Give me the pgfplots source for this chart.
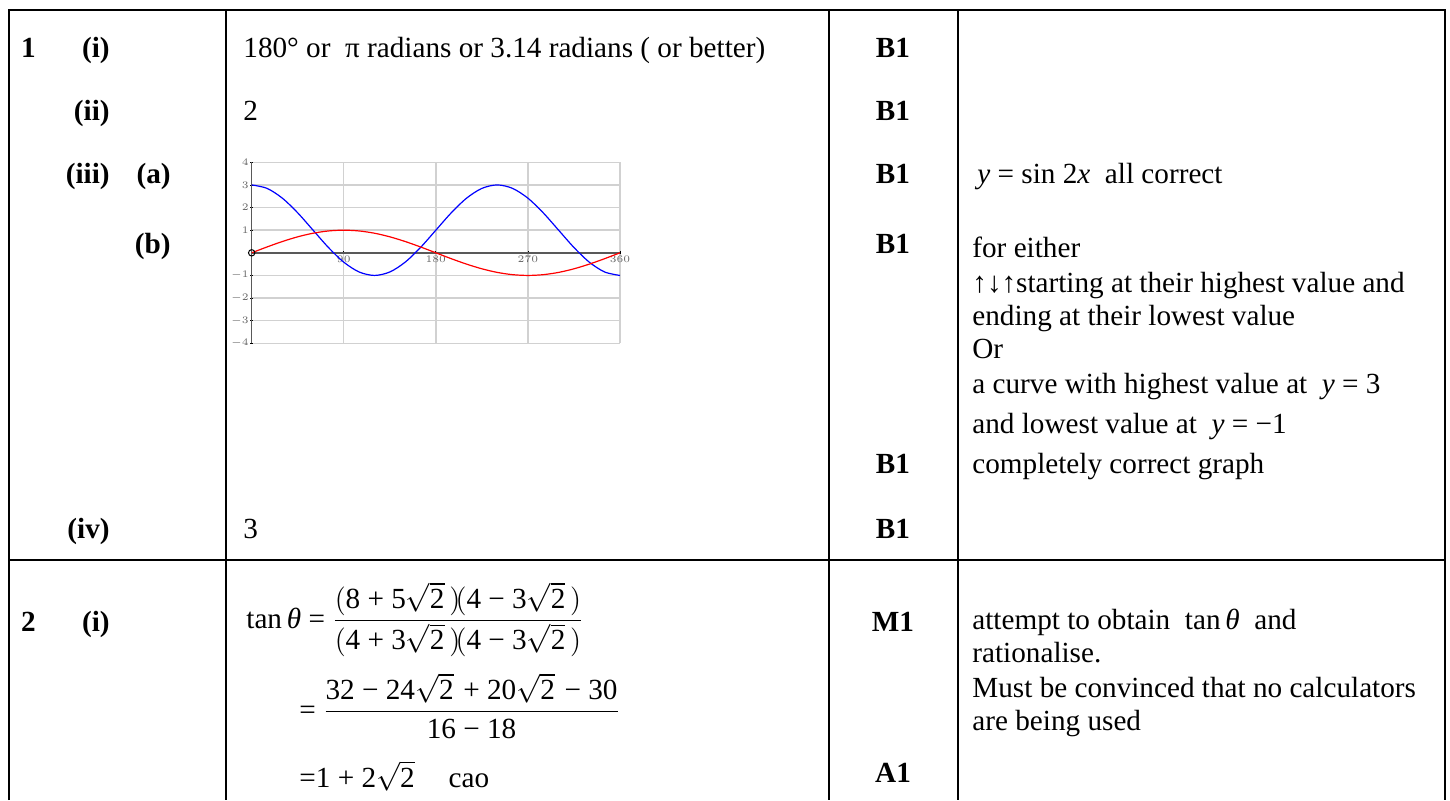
\documentclass[border=0pt]{standalone}
\usepackage{fontspec}
\setmainfont{Liberation Serif}
\usepackage{pgfplots}
\pgfplotsset{compat=1.18}

% red: y = sin x, blue: the second curve, every 15 degrees
\pgfplotstableread{
x    red     blue
0    0       3
15   0.259   2.848
30   0.5     2.414
45   0.707   1.765
60   0.866   1
75   0.966   0.235
90   1      -0.414
105  0.966  -0.848
120  0.866  -1
135  0.707  -0.848
150  0.5    -0.414
165  0.259   0.235
180  0       1
195 -0.259   1.765
210 -0.5     2.414
225 -0.707   2.848
240 -0.866   3
255 -0.966   2.848
270 -1       2.414
285 -0.966   1.765
300 -0.866   1
315 -0.707   0.235
330 -0.5    -0.414
345 -0.259  -0.848
360  0      -1
}\curves

% numbers inside formulas in the text face (Times-like, as in the scan)
\newcommand{\tn}[1]{\mbox{#1}}
\newcommand{\rt}{\sqrt{\tn{2}}\,}

\begin{document}
\begin{tikzpicture}[x=0.5pt, y=-0.5pt,
  txt/.style={anchor=base west, inner sep=0pt, font=\fontsize{14.6}{17.5}\selectfont},
  mk/.style={anchor=base, inner sep=0pt, font=\fontsize{14.6}{17.5}\selectfont\bfseries},
  num/.style={anchor=base east, inner sep=0pt, font=\fontsize{14.6}{17.5}\selectfont\bfseries}]
\path[use as bounding box] (0,0) rectangle (1450,800);

% table rules
\draw[line width=1pt] (9,800) -- (9,10) -- (1445,10) -- (1445,800);
\draw[line width=1pt] (9,560) -- (1445,560);
\foreach \cx in {226,829,958} \draw[line width=1pt] (\cx,10) -- (\cx,800);

% question numbers
\node[num] at (36,57) {1};
\node[num] at (110,57) {(i)};
\node[num] at (110,120) {(ii)};
\node[num] at (110,183) {(iii)};
\node[num] at (171,183) {(a)};
\node[num] at (171,253) {(b)};
\node[num] at (110,538) {(iv)};
\node[num] at (36,631) {2};
\node[num] at (110,631) {(i)};

% answers
\node[txt] at (243,57) {180° or\ \ π radians or 3.14 radians ( or better)};
\node[txt] at (243,120) {2};
\node[txt] at (243,538) {3};
\node[txt] at (246,628) {tan\,\textit{θ} = $\displaystyle\frac{\Bigl(\tn{8 + 5}\rt\Bigr)\!\Bigl(\tn{4 − 3}\rt\Bigr)}{\Bigl(\tn{4 + 3}\rt\Bigr)\!\Bigl(\tn{4 − 3}\rt\Bigr)}$};
\node[txt] at (299,719) {= $\displaystyle\frac{\tn{32 − 24}\rt\tn{\,+ 20}\rt\tn{\,− 30}}{\tn{16 − 18}}$};
\node[txt] at (299,787) {=1 + 2$\rt$\quad cao};

% marks
\foreach \yy/\m in {57/B1,120/B1,183/B1,253/B1,473/B1,538/B1,631/M1,782/A1}
  \node[mk] at (893,\yy) {\m};

% guidance
\node[txt] at (977,183) {\textit{y} = sin 2\textit{x}\ \ all correct};
\node[txt] at (972,257) {for either};
\node[txt] at (972,292) {↑↓↑starting at their highest value and};
\node[txt] at (972,325) {ending at their lowest value};
\node[txt] at (972,358) {Or};
\node[txt] at (972,393) {a curve with highest value at\ \ \textit{y} = 3};
\node[txt] at (972,433) {and lowest value at\ \ \textit{y} = −1};
\node[txt] at (972,473) {completely correct graph};
\node[txt] at (972,629) {attempt to obtain\ \ tan\,\textit{θ}\ \ and};
\node[txt] at (972,662) {rationalise.};
\node[txt] at (972,697) {Must be convinced that no calculators};
\node[txt] at (972,730) {are being used};

% the sketch graph
\begin{axis}[
    at={(125.85pt,-171.65pt)}, anchor=south west,
    width=184.15pt, height=90.5pt, scale only axis,
    xmin=0, xmax=360, ymin=-4, ymax=4,
    axis lines=middle,
    axis line style={draw=black!65, line width=0.7pt, -},
    xtick={90,180,270,360}, ytick={-4,-3,-2,-1,1,2,3,4},
    grid=major,
    major grid style={draw=black!18, line width=0.7pt},
    major tick length=1.5pt,
    tick style={black, line width=0.4pt},
    tick label style={font=\fontsize{2}{2.5}\selectfont, inner sep=0.5pt, text=black!60},
]
\addplot[blue, line width=0.6pt, smooth] table[x=x, y=blue] {\curves};
\addplot[red, line width=0.6pt, smooth] table[x=x, y=red] {\curves};
\addplot[only marks, mark=o, mark size=1.6pt, black, line width=0.5pt] coordinates {(0,0)};
\end{axis}
\end{tikzpicture}
\end{document}
